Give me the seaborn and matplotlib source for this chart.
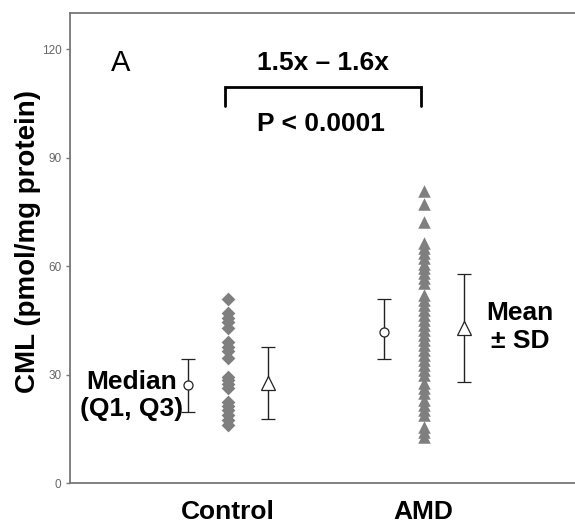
import matplotlib
matplotlib.use("Agg")
import matplotlib.pyplot as plt
import seaborn as sns
import pandas as pd
import numpy as np

# ---------------- data ----------------
groups = ["Control", "AMD"]
control_values = [50.8, 46.9, 45.7, 44.4, 42.8, 39.1, 37.7, 36.5, 34.5, 29.4,
                  28.5, 27.3, 26.2, 22.5, 21.3, 20.2, 18.8, 17.4, 16.0]
amd_values = [80.8, 77.3, 72.2, 66.3, 64.9, 63.5, 62.1, 60.7, 59.4, 58.0,
              56.6, 55.2, 52.0, 50.6, 49.2, 47.8, 46.5, 45.1, 43.7, 42.3,
              40.9, 39.5, 38.2, 36.8, 35.4, 34.0, 32.6, 31.2, 29.9, 27.6,
              26.2, 24.8, 22.9, 21.6, 20.2, 18.8, 15.6, 14.2, 12.8]
medians = [27.1, 41.9]
q1 = [19.7, 34.3]
q3 = [34.3, 51.0]
means = [27.6, 42.8]
sds = [9.9, 15.0]
yticks = [0, 30, 60, 90, 120]

# ---------------- style ----------------
sns.set_theme(style="white")
plt.rcParams["font.family"] = ["Liberation Sans", "DejaVu Sans"]
plt.rcParams["text.color"] = "black"
plt.rcParams["axes.labelcolor"] = "black"

fig = plt.figure(figsize=(5.75, 5.32), dpi=100)
ax = fig.add_axes([0.1212, 0.0921, 0.8788, 0.8835])

df_c = pd.DataFrame({"group": "Control", "value": control_values})
df_a = pd.DataFrame({"group": "AMD", "value": amd_values})

sns.stripplot(data=df_c, x="group", y="value", order=groups, jitter=False,
              marker="D", color="#7f7f7f", size=7, linewidth=0, ax=ax)
sns.stripplot(data=df_a, x="group", y="value", order=groups, jitter=False,
              marker="^", color="#7f7f7f", size=9, linewidth=0, ax=ax)

off = 0.204
xpos = np.arange(len(groups))
# median (Q1, Q3)
ax.errorbar(xpos - off, medians,
            yerr=[np.array(medians) - np.array(q1), np.array(q3) - np.array(medians)],
            fmt="o", mfc="white", mec="#222222", ms=6.5, mew=0.9,
            ecolor="#222222", elinewidth=1.0, capsize=5, capthick=1.0, zorder=3)
# mean ± SD
ax.errorbar(xpos + off, means, yerr=sds,
            fmt="^", mfc="white", mec="#222222", ms=10, mew=0.9,
            ecolor="#222222", elinewidth=1.0, capsize=5, capthick=1.0, zorder=3)

# bracket
ax.plot([-0.015, -0.015, 0.985, 0.985], [104.2, 109.6, 109.6, 104.2],
        color="black", lw=2.0, solid_joinstyle="miter")

ax.text(-0.544, 116.1, "A", ha="center", va="center", fontsize=21)
ax.text(0.485, 116.1, "1.5x \u2013 1.6x", ha="center", va="center",
        fontsize=19, fontweight="bold")
ax.text(0.476, 99.3, "P < 0.0001", ha="center", va="center",
        fontsize=19, fontweight="bold")
ax.text(-0.491, 24.1, "Median\n(Q1, Q3)", ha="center", va="center",
        multialignment="center", fontsize=19, fontweight="bold",
        linespacing=1.15)
ax.text(1.491, 43.2, "Mean\n\u00b1 SD", ha="center", va="center",
        multialignment="center", fontsize=19, fontweight="bold",
        linespacing=1.2)

ax.set_xlim(-0.806, 1.772)
ax.set_ylim(0, 130)
ax.set_yticks(yticks)
ax.set_yticklabels([str(t) for t in yticks])
ax.set_xticks(xpos)
ax.set_xticklabels(groups, fontsize=19, fontweight="bold")
ax.set_xlabel("")
ax.set_ylabel("CML (pmol/mg protein)", fontsize=20, fontweight="bold")
ax.yaxis.set_label_coords(-0.056, 0.514)

ax.tick_params(axis="y", length=3, width=1, color="#777777", labelsize=8.5,
               labelcolor="#666666", pad=3, left=True)
ax.tick_params(axis="x", length=0, pad=12, labelcolor="black")

for s in ["left", "bottom", "top"]:
    ax.spines[s].set_color("#777777")
    ax.spines[s].set_linewidth(1.3)
ax.spines["right"].set_visible(False)

fig.savefig("out.png", dpi=100)
